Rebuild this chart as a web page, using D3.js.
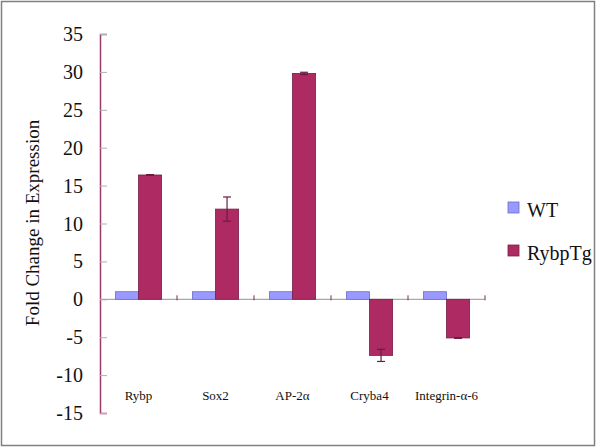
<!DOCTYPE html>
<html>
<head>
<meta charset="utf-8">
<script src="https://cdn.jsdelivr.net/npm/d3@7"></script>
<style>
  body { margin: 0; background: #fff; }
</style>
</head>
<body>
<div id="chart"></div>
<script>
// values
const genes = ["Rybp", "Sox2", "AP-2\u03b1", "Cryba4", "Integrin-\u03b1-6"];
const seriesNames = ["WT", "RybpTg"];
const wtValues = [1, 1, 1, 1, 1];
const tgValues = [16.4, 11.9, 29.8, -7.4, -5.1];
const tgErrors = [0.05, 1.6, 0.15, 0.8, 0.05];
const yTicks = [-15, -10, -5, 0, 5, 10, 15, 20, 25, 30, 35];

const colors = { WT: "#9999ff", RybpTg: "#ad2a62" };
const strokes = { WT: "#6d6dc8", RybpTg: "#7a1f47" };
const serif = "'Liberation Serif', 'Times New Roman', 'DejaVu Serif', serif";

const width = 600, height = 448;

const svg = d3.select("#chart").append("svg")
    .attr("width", width)
    .attr("height", height)
    .attr("font-family", serif)
    .style("display", "block");

// outer frame
svg.append("rect")
    .attr("x", 1.5).attr("y", 1.5)
    .attr("width", 593).attr("height", 444)
    .attr("fill", "none")
    .attr("stroke", "#808080")
    .attr("stroke-width", 1.5);

const y = d3.scaleLinear().domain([-15, 35]).range([413, 34]);
const x = d3.scaleBand().domain(genes).range([100, 485]).padding(0);
const xs = d3.scaleBand().domain(seriesNames)
    .range([x.bandwidth() * 0.2, x.bandwidth() * 0.8]);

// y axis
const yAxis = d3.axisRight(y).tickValues(yTicks).tickSize(7).tickFormat("");
const yg = svg.append("g").attr("transform", "translate(100,0)").call(yAxis);
yg.select(".domain").attr("stroke", "#9a3a68").attr("stroke-width", 1.5);
yg.selectAll(".tick line").attr("stroke", "#b0b0b0");

svg.append("g").selectAll("text")
    .data(yTicks)
    .join("text")
    .attr("x", 83)
    .attr("y", d => y(d))
    .attr("dy", "0.35em")
    .attr("text-anchor", "end")
    .attr("font-family", serif)
    .attr("font-size", 20)
    .attr("fill", "#111")
    .text(d => d);

// zero line
svg.append("line")
    .attr("x1", 100).attr("x2", 485)
    .attr("y1", y(0)).attr("y2", y(0))
    .attr("stroke", "#a8a8a8")
    .attr("stroke-width", 1.2);

// category separators on zero line
svg.append("g").selectAll("line")
    .data(genes)
    .join("line")
    .attr("x1", d => x(d) + x.bandwidth())
    .attr("x2", d => x(d) + x.bandwidth())
    .attr("y1", y(0) - 4)
    .attr("y2", y(0) + 1)
    .attr("stroke", "#7a2a50")
    .attr("stroke-width", 1);

// bars
const rows = genes.map((g, i) => ({ gene: g, WT: wtValues[i], RybpTg: tgValues[i], err: tgErrors[i] }));

const groups = svg.append("g").selectAll("g")
    .data(rows)
    .join("g")
    .attr("transform", d => `translate(${x(d.gene)},0)`);

groups.selectAll("rect")
    .data(d => seriesNames.map(s => ({ s, v: d[s] })))
    .join("rect")
    .attr("x", d => xs(d.s))
    .attr("width", xs.bandwidth())
    .attr("y", d => y(Math.max(0, d.v)))
    .attr("height", d => Math.abs(y(d.v) - y(0)))
    .attr("fill", d => colors[d.s])
    .attr("stroke", d => strokes[d.s])
    .attr("stroke-width", 0.8);

// error bars on RybpTg
const errG = groups.append("g")
    .attr("stroke", "#6a1c40")
    .attr("stroke-width", 1.2);
const cx = xs("RybpTg") + xs.bandwidth() / 2;
errG.append("line")
    .attr("x1", cx).attr("x2", cx)
    .attr("y1", d => y(d.RybpTg - d.err))
    .attr("y2", d => y(d.RybpTg + d.err));
errG.append("line")
    .attr("x1", cx - 4).attr("x2", cx + 4)
    .attr("y1", d => y(d.RybpTg + d.err))
    .attr("y2", d => y(d.RybpTg + d.err));
errG.append("line")
    .attr("x1", cx - 4).attr("x2", cx + 4)
    .attr("y1", d => y(d.RybpTg - d.err))
    .attr("y2", d => y(d.RybpTg - d.err));

// category labels
svg.append("g").selectAll("text")
    .data(genes)
    .join("text")
    .attr("x", d => x(d) + x.bandwidth() / 2)
    .attr("y", 400)
    .attr("text-anchor", "middle")
    .attr("font-family", serif)
    .attr("font-size", 13)
    .attr("fill", "#111")
    .text(d => d);

// y title
svg.append("text")
    .attr("transform", "translate(39,223) rotate(-90)")
    .attr("text-anchor", "middle")
    .attr("font-family", serif)
    .attr("font-size", 19)
    .attr("fill", "#111")
    .text("Fold Change in Expression");

// legend
const legend = svg.append("g").selectAll("g")
    .data(seriesNames)
    .join("g")
    .attr("transform", (d, i) => `translate(508,${202 + i * 43})`);
legend.append("rect")
    .attr("width", 11).attr("height", 11)
    .attr("fill", d => colors[d])
    .attr("stroke", d => strokes[d])
    .attr("stroke-width", 0.8);
legend.append("text")
    .attr("x", 19).attr("y", 14.5)
    .attr("font-family", serif)
    .attr("font-size", 20)
    .attr("fill", "#111")
    .text(d => d);
</script>
</body>
</html>
